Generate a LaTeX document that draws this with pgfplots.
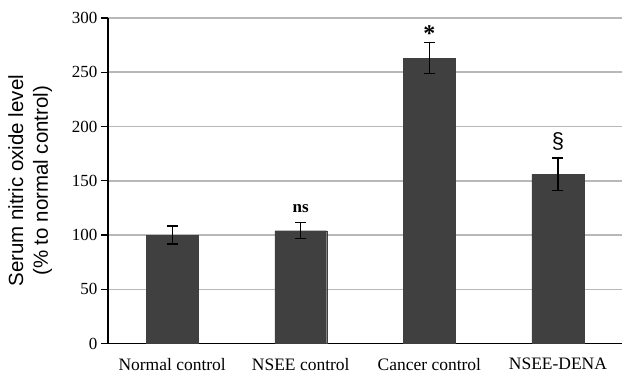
\documentclass[border=0pt]{standalone}
\usepackage{pgfplots}
\pgfplotsset{compat=1.18}
\usepackage{fontspec}
\setmainfont{Liberation Serif}
\setsansfont{Liberation Sans}
\definecolor{barc}{HTML}{404040}
\definecolor{gridc}{HTML}{B8B8B8}
\begin{document}
\begin{tikzpicture}
\begin{axis}[
  scale only axis,
  width=515pt, height=326pt,
  xmin=-0.5, xmax=3.5,
  ymin=0, ymax=300,
  ytick={0,50,...,300},
  xtick={0,1,2,3},
  xticklabels={Normal control, NSEE control, Cancer control, NSEE-DENA},
  minor xtick={-0.5,0.5,1.5,2.5},
  axis lines=left,
  axis line style={-, line width=1.3pt},
  ymajorgrids,
  grid style={gridc, line width=1.5pt},
  tick align=outside,
  major tick length=7pt,
  xtick style={draw=none},
  minor x tick style={black, line width=1.1pt},
  minor tick length=6pt,
  ytick style={black, line width=1.1pt},
  /pgf/number format/assume math mode=true,
  yticklabel style={font=\fontsize{17}{17}\selectfont, xshift=0pt},
  xticklabel style={font=\fontsize{17.5}{17.5}\selectfont, yshift=-4pt},
  ylabel={Serum nitric oxide level\\(\% to normal control)},
  ylabel style={font=\sffamily\fontsize{20.5}{25}\selectfont, align=center, at={(axis description cs:-0.151,0.5)}, anchor=center},
  clip=false,
]
\addplot[ybar, bar width=52pt, fill=barc, draw=barc,
  error bars/.cd, y dir=both, y explicit,
  error bar style={black, line width=1.2pt},
  error mark options={rotate=90, mark size=5.5pt, line width=1.2pt, black}]
  table[x=x, y=y, y error=e] {
x y e
0 100 8.3
1 104 7.5
2 263 14.2
3 156 15
};
\addplot[draw=none, mark=none, nodes near coords, point meta=explicit symbolic,
  nodes near coords align={center},
  every node near coord/.append style={font=\fontsize{17}{17}\selectfont\bfseries, black}]
  table[x=x, y=y, meta=lab] {
x y lab
1 124 ns
};
\addplot[draw=none, mark=none, nodes near coords, point meta=explicit symbolic,
  nodes near coords align={center},
  every node near coord/.append style={font=\fontsize{24}{24}\selectfont\bfseries, black}]
  table[x=x, y=y, meta=lab] {
x y lab
2 286 *
};
\addplot[draw=none, mark=none, nodes near coords, point meta=explicit symbolic,
  nodes near coords align={center},
  every node near coord/.append style={font=\sffamily\fontsize{22}{22}\selectfont, black}]
  table[x=x, y=y, meta=lab] {
x y lab
3 186 \S
};
\end{axis}
\path (current axis.south west) ++(-108pt,-34pt) coordinate (bl);
\path (current axis.north east) ++(0pt,18pt) coordinate (tr);
\path[use as bounding box] (bl) rectangle (tr);
\end{tikzpicture}
\end{document}
